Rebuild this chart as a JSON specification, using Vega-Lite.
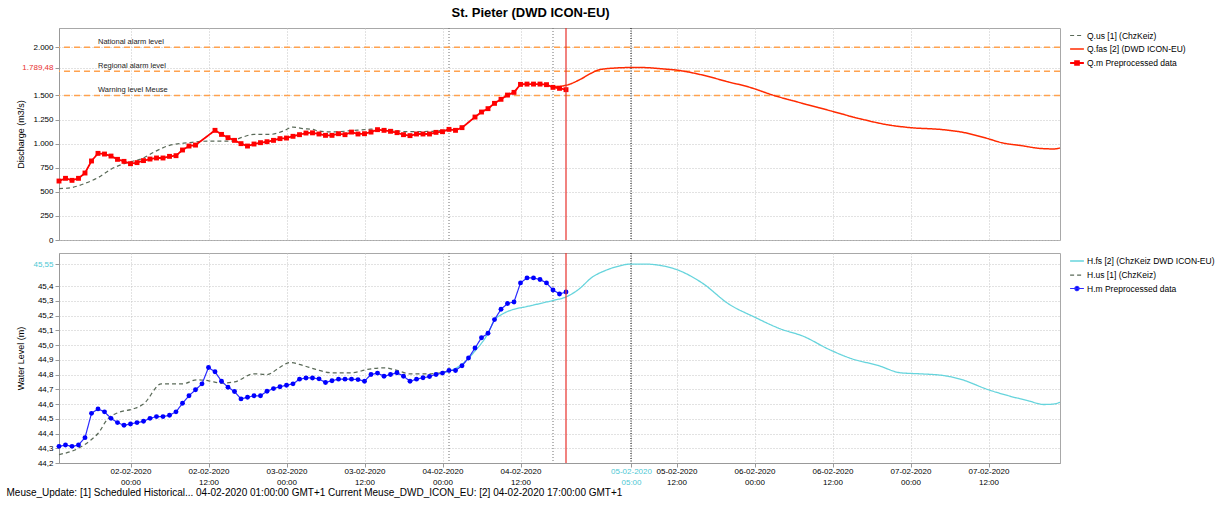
{
"$schema":"https://vega.github.io/schema/vega-lite/v6.json",
"padding":{"left":5,"top":6,"right":5,"bottom":5},
"title":{"text":"St. Pieter (DWD ICON-EU)","fontSize":13,"fontWeight":"bold","anchor":"start","dx":446,"offset":7,"font":"Liberation Sans"},
"config":{"font":"Liberation Sans","view":{"stroke":"#a8a8a8"},
 "axis":{"labelFontSize":8,"labelColor":"#000","titleFontSize":9,"titleFontWeight":"normal","titleColor":"#000","gridColor":"#c4c4c4","gridDash":[1,2],"domainColor":"#999","tickColor":"#999","tickSize":4,"labelOverlap":false},
 "legend":{"orient":"right","offset":6,"labelFontSize":8.5,"labelColor":"#000","labelOffset":2,"labelLimit":300,"symbolType":"stroke","symbolSize":190,"symbolStrokeWidth":1.5,"rowPadding":1,"padding":0}},
"datasets":{
"alarm":[{"v":2000,"lab":"National alarm level"},{"v":1750,"lab":"Regional alarm level"},{"v":1500,"lab":"Warning level Meuse"}],
"vl":[{"t":"2020-02-04T01:00","k":"h"},{"t":"2020-02-04T17:00","k":"h"},{"t":"2020-02-05T05:00","k":"p"},{"t":"2020-02-04T19:00","k":"n"}],
"ts":[
{"t":"2020-02-01T13:00","s":"Q.m","v":612},{"t":"2020-02-01T14:00","s":"Q.m","v":640},{"t":"2020-02-01T15:00","s":"Q.m","v":619},{"t":"2020-02-01T16:00","s":"Q.m","v":640},{"t":"2020-02-01T17:00","s":"Q.m","v":695},{"t":"2020-02-01T18:00","s":"Q.m","v":820},{"t":"2020-02-01T19:00","s":"Q.m","v":899},{"t":"2020-02-01T20:00","s":"Q.m","v":892},{"t":"2020-02-01T21:00","s":"Q.m","v":871},{"t":"2020-02-01T22:00","s":"Q.m","v":837},{"t":"2020-02-01T23:00","s":"Q.m","v":816},
{"t":"2020-02-02T00:00","s":"Q.m","v":792},{"t":"2020-02-02T01:00","s":"Q.m","v":803},{"t":"2020-02-02T02:00","s":"Q.m","v":824},{"t":"2020-02-02T03:00","s":"Q.m","v":840},{"t":"2020-02-02T04:00","s":"Q.m","v":851},{"t":"2020-02-02T05:00","s":"Q.m","v":851},{"t":"2020-02-02T06:00","s":"Q.m","v":868},{"t":"2020-02-02T07:00","s":"Q.m","v":875},{"t":"2020-02-02T08:00","s":"Q.m","v":934},{"t":"2020-02-02T09:00","s":"Q.m","v":975},{"t":"2020-02-02T10:00","s":"Q.m","v":985},{"t":"2020-02-02T13:00","s":"Q.m","v":1138},{"t":"2020-02-02T14:00","s":"Q.m","v":1096},{"t":"2020-02-02T15:00","s":"Q.m","v":1062},{"t":"2020-02-02T16:00","s":"Q.m","v":1034},{"t":"2020-02-02T17:00","s":"Q.m","v":1000},{"t":"2020-02-02T18:00","s":"Q.m","v":975},{"t":"2020-02-02T19:00","s":"Q.m","v":996},{"t":"2020-02-02T20:00","s":"Q.m","v":1010},{"t":"2020-02-02T21:00","s":"Q.m","v":1020},{"t":"2020-02-02T22:00","s":"Q.m","v":1034},{"t":"2020-02-02T23:00","s":"Q.m","v":1052},
{"t":"2020-02-03T00:00","s":"Q.m","v":1058},{"t":"2020-02-03T01:00","s":"Q.m","v":1076},{"t":"2020-02-03T02:00","s":"Q.m","v":1093},{"t":"2020-02-03T03:00","s":"Q.m","v":1110},{"t":"2020-02-03T04:00","s":"Q.m","v":1112},{"t":"2020-02-03T05:00","s":"Q.m","v":1100},{"t":"2020-02-03T06:00","s":"Q.m","v":1086},{"t":"2020-02-03T07:00","s":"Q.m","v":1086},{"t":"2020-02-03T08:00","s":"Q.m","v":1103},{"t":"2020-02-03T09:00","s":"Q.m","v":1093},{"t":"2020-02-03T10:00","s":"Q.m","v":1120},{"t":"2020-02-03T11:00","s":"Q.m","v":1100},{"t":"2020-02-03T12:00","s":"Q.m","v":1103},{"t":"2020-02-03T13:00","s":"Q.m","v":1120},{"t":"2020-02-03T14:00","s":"Q.m","v":1145},{"t":"2020-02-03T15:00","s":"Q.m","v":1138},{"t":"2020-02-03T16:00","s":"Q.m","v":1128},{"t":"2020-02-03T17:00","s":"Q.m","v":1114},{"t":"2020-02-03T18:00","s":"Q.m","v":1093},{"t":"2020-02-03T19:00","s":"Q.m","v":1083},{"t":"2020-02-03T20:00","s":"Q.m","v":1100},{"t":"2020-02-03T21:00","s":"Q.m","v":1100},{"t":"2020-02-03T22:00","s":"Q.m","v":1100},{"t":"2020-02-03T23:00","s":"Q.m","v":1117},
{"t":"2020-02-04T00:00","s":"Q.m","v":1124},{"t":"2020-02-04T01:00","s":"Q.m","v":1148},{"t":"2020-02-04T02:00","s":"Q.m","v":1138},{"t":"2020-02-04T03:00","s":"Q.m","v":1166},{"t":"2020-02-04T05:00","s":"Q.m","v":1276},{"t":"2020-02-04T06:00","s":"Q.m","v":1328},{"t":"2020-02-04T07:00","s":"Q.m","v":1363},{"t":"2020-02-04T08:00","s":"Q.m","v":1418},{"t":"2020-02-04T09:00","s":"Q.m","v":1460},{"t":"2020-02-04T10:00","s":"Q.m","v":1504},{"t":"2020-02-04T11:00","s":"Q.m","v":1532},{"t":"2020-02-04T12:00","s":"Q.m","v":1615},{"t":"2020-02-04T13:00","s":"Q.m","v":1618},{"t":"2020-02-04T14:00","s":"Q.m","v":1618},{"t":"2020-02-04T15:00","s":"Q.m","v":1618},{"t":"2020-02-04T16:00","s":"Q.m","v":1612},{"t":"2020-02-04T17:00","s":"Q.m","v":1584},{"t":"2020-02-04T18:00","s":"Q.m","v":1574},{"t":"2020-02-04T19:00","s":"Q.m","v":1560},
{"t":"2020-02-01T13:00","s":"Q.us","v":533},{"t":"2020-02-01T15:00","s":"Q.us","v":545},{"t":"2020-02-01T17:00","s":"Q.us","v":588},{"t":"2020-02-01T19:00","s":"Q.us","v":647},{"t":"2020-02-01T21:00","s":"Q.us","v":735},{"t":"2020-02-01T23:30","s":"Q.us","v":803},{"t":"2020-02-02T01:45","s":"Q.us","v":844},{"t":"2020-02-02T03:50","s":"Q.us","v":920},{"t":"2020-02-02T06:00","s":"Q.us","v":982},{"t":"2020-02-02T09:00","s":"Q.us","v":1010},{"t":"2020-02-02T11:00","s":"Q.us","v":1024},{"t":"2020-02-02T13:00","s":"Q.us","v":1027},{"t":"2020-02-02T15:30","s":"Q.us","v":1027},{"t":"2020-02-02T17:00","s":"Q.us","v":1062},{"t":"2020-02-02T19:00","s":"Q.us","v":1096},{"t":"2020-02-02T21:30","s":"Q.us","v":1096},{"t":"2020-02-02T23:30","s":"Q.us","v":1131},{"t":"2020-02-03T01:00","s":"Q.us","v":1172},{"t":"2020-02-03T02:30","s":"Q.us","v":1156},{"t":"2020-02-03T04:00","s":"Q.us","v":1148},{"t":"2020-02-03T05:00","s":"Q.us","v":1130},{"t":"2020-02-03T07:00","s":"Q.us","v":1121},{"t":"2020-02-03T10:00","s":"Q.us","v":1135},{"t":"2020-02-03T12:30","s":"Q.us","v":1148},{"t":"2020-02-03T14:30","s":"Q.us","v":1155},{"t":"2020-02-03T16:30","s":"Q.us","v":1138},{"t":"2020-02-03T18:30","s":"Q.us","v":1124},{"t":"2020-02-03T22:30","s":"Q.us","v":1128},{"t":"2020-02-04T01:00","s":"Q.us","v":1148},
{"t":"2020-02-04T17:00","s":"Q.fas","v":1590},{"t":"2020-02-04T19:00","s":"Q.fas","v":1605},{"t":"2020-02-04T21:00","s":"Q.fas","v":1660},{"t":"2020-02-04T23:00","s":"Q.fas","v":1735},{"t":"2020-02-05T00:00","s":"Q.fas","v":1765},{"t":"2020-02-05T02:00","s":"Q.fas","v":1782},{"t":"2020-02-05T05:00","s":"Q.fas","v":1789.48},{"t":"2020-02-05T07:00","s":"Q.fas","v":1789},{"t":"2020-02-05T10:00","s":"Q.fas","v":1775},{"t":"2020-02-05T12:00","s":"Q.fas","v":1763},{"t":"2020-02-05T16:00","s":"Q.fas","v":1712},{"t":"2020-02-05T20:00","s":"Q.fas","v":1640},{"t":"2020-02-05T23:00","s":"Q.fas","v":1590},{"t":"2020-02-06T03:00","s":"Q.fas","v":1500},{"t":"2020-02-06T07:00","s":"Q.fas","v":1425},{"t":"2020-02-06T12:00","s":"Q.fas","v":1335},{"t":"2020-02-06T16:00","s":"Q.fas","v":1262},{"t":"2020-02-06T21:00","s":"Q.fas","v":1190},{"t":"2020-02-07T00:00","s":"Q.fas","v":1166},{"t":"2020-02-07T05:00","s":"Q.fas","v":1145},{"t":"2020-02-07T08:00","s":"Q.fas","v":1118},{"t":"2020-02-07T12:00","s":"Q.fas","v":1050},{"t":"2020-02-07T14:00","s":"Q.fas","v":1010},{"t":"2020-02-07T17:00","s":"Q.fas","v":980},{"t":"2020-02-07T20:00","s":"Q.fas","v":950},{"t":"2020-02-07T22:00","s":"Q.fas","v":945},{"t":"2020-02-07T23:00","s":"Q.fas","v":955},
{"t":"2020-02-01T13:00","s":"H.m","v":44.313},{"t":"2020-02-01T14:00","s":"H.m","v":44.322},{"t":"2020-02-01T15:00","s":"H.m","v":44.313},{"t":"2020-02-01T16:00","s":"H.m","v":44.322},{"t":"2020-02-01T17:00","s":"H.m","v":44.372},{"t":"2020-02-01T18:00","s":"H.m","v":44.537},{"t":"2020-02-01T19:00","s":"H.m","v":44.567},{"t":"2020-02-01T20:00","s":"H.m","v":44.547},{"t":"2020-02-01T21:00","s":"H.m","v":44.503},{"t":"2020-02-01T22:00","s":"H.m","v":44.474},{"t":"2020-02-01T23:00","s":"H.m","v":44.456},
{"t":"2020-02-02T00:00","s":"H.m","v":44.465},{"t":"2020-02-02T01:00","s":"H.m","v":44.474},{"t":"2020-02-02T02:00","s":"H.m","v":44.483},{"t":"2020-02-02T03:00","s":"H.m","v":44.503},{"t":"2020-02-02T04:00","s":"H.m","v":44.515},{"t":"2020-02-02T05:00","s":"H.m","v":44.515},{"t":"2020-02-02T06:00","s":"H.m","v":44.524},{"t":"2020-02-02T07:00","s":"H.m","v":44.547},{"t":"2020-02-02T08:00","s":"H.m","v":44.605},{"t":"2020-02-02T09:00","s":"H.m","v":44.656},{"t":"2020-02-02T10:00","s":"H.m","v":44.697},{"t":"2020-02-02T11:00","s":"H.m","v":44.737},{"t":"2020-02-02T12:00","s":"H.m","v":44.848},{"t":"2020-02-02T13:00","s":"H.m","v":44.819},{"t":"2020-02-02T14:00","s":"H.m","v":44.755},{"t":"2020-02-02T15:00","s":"H.m","v":44.714},{"t":"2020-02-02T16:00","s":"H.m","v":44.685},{"t":"2020-02-02T17:00","s":"H.m","v":44.635},{"t":"2020-02-02T18:00","s":"H.m","v":44.646},{"t":"2020-02-02T19:00","s":"H.m","v":44.656},{"t":"2020-02-02T20:00","s":"H.m","v":44.656},{"t":"2020-02-02T21:00","s":"H.m","v":44.687},{"t":"2020-02-02T22:00","s":"H.m","v":44.705},{"t":"2020-02-02T23:00","s":"H.m","v":44.717},
{"t":"2020-02-03T00:00","s":"H.m","v":44.728},{"t":"2020-02-03T01:00","s":"H.m","v":44.737},{"t":"2020-02-03T02:00","s":"H.m","v":44.769},{"t":"2020-02-03T03:00","s":"H.m","v":44.777},{"t":"2020-02-03T04:00","s":"H.m","v":44.777},{"t":"2020-02-03T05:00","s":"H.m","v":44.771},{"t":"2020-02-03T06:00","s":"H.m","v":44.746},{"t":"2020-02-03T07:00","s":"H.m","v":44.758},{"t":"2020-02-03T08:00","s":"H.m","v":44.769},{"t":"2020-02-03T09:00","s":"H.m","v":44.769},{"t":"2020-02-03T10:00","s":"H.m","v":44.769},{"t":"2020-02-03T11:00","s":"H.m","v":44.766},{"t":"2020-02-03T12:00","s":"H.m","v":44.755},{"t":"2020-02-03T13:00","s":"H.m","v":44.801},{"t":"2020-02-03T14:00","s":"H.m","v":44.81},{"t":"2020-02-03T15:00","s":"H.m","v":44.789},{"t":"2020-02-03T16:00","s":"H.m","v":44.801},{"t":"2020-02-03T17:00","s":"H.m","v":44.812},{"t":"2020-02-03T18:00","s":"H.m","v":44.789},{"t":"2020-02-03T19:00","s":"H.m","v":44.755},{"t":"2020-02-03T20:00","s":"H.m","v":44.769},{"t":"2020-02-03T21:00","s":"H.m","v":44.778},{"t":"2020-02-03T22:00","s":"H.m","v":44.787},{"t":"2020-02-03T23:00","s":"H.m","v":44.801},
{"t":"2020-02-04T00:00","s":"H.m","v":44.81},{"t":"2020-02-04T01:00","s":"H.m","v":44.828},{"t":"2020-02-04T02:00","s":"H.m","v":44.828},{"t":"2020-02-04T03:00","s":"H.m","v":44.86},{"t":"2020-02-04T04:00","s":"H.m","v":44.912},{"t":"2020-02-04T05:00","s":"H.m","v":44.98},{"t":"2020-02-04T06:00","s":"H.m","v":45.05},{"t":"2020-02-04T07:00","s":"H.m","v":45.08},{"t":"2020-02-04T08:00","s":"H.m","v":45.173},{"t":"2020-02-04T09:00","s":"H.m","v":45.243},{"t":"2020-02-04T10:00","s":"H.m","v":45.282},{"t":"2020-02-04T11:00","s":"H.m","v":45.293},{"t":"2020-02-04T12:00","s":"H.m","v":45.422},{"t":"2020-02-04T13:00","s":"H.m","v":45.456},{"t":"2020-02-04T14:00","s":"H.m","v":45.456},{"t":"2020-02-04T15:00","s":"H.m","v":45.445},{"t":"2020-02-04T16:00","s":"H.m","v":45.422},{"t":"2020-02-04T17:00","s":"H.m","v":45.374},{"t":"2020-02-04T18:00","s":"H.m","v":45.347},{"t":"2020-02-04T19:00","s":"H.m","v":45.36},
{"t":"2020-02-01T13:00","s":"H.us","v":44.257},{"t":"2020-02-01T16:00","s":"H.us","v":44.30},{"t":"2020-02-01T18:00","s":"H.us","v":44.36},{"t":"2020-02-01T19:00","s":"H.us","v":44.40},{"t":"2020-02-01T20:30","s":"H.us","v":44.50},{"t":"2020-02-01T22:00","s":"H.us","v":44.54},{"t":"2020-02-02T00:30","s":"H.us","v":44.568},{"t":"2020-02-02T02:00","s":"H.us","v":44.60},{"t":"2020-02-02T04:45","s":"H.us","v":44.737},{"t":"2020-02-02T08:00","s":"H.us","v":44.737},{"t":"2020-02-02T10:15","s":"H.us","v":44.765},{"t":"2020-02-02T12:00","s":"H.us","v":44.758},{"t":"2020-02-02T14:00","s":"H.us","v":44.742},{"t":"2020-02-02T16:00","s":"H.us","v":44.75},{"t":"2020-02-02T19:00","s":"H.us","v":44.805},{"t":"2020-02-02T21:00","s":"H.us","v":44.80},{"t":"2020-02-02T23:00","s":"H.us","v":44.85},{"t":"2020-02-03T00:30","s":"H.us","v":44.882},{"t":"2020-02-03T02:30","s":"H.us","v":44.862},{"t":"2020-02-03T04:30","s":"H.us","v":44.835},{"t":"2020-02-03T07:00","s":"H.us","v":44.812},{"t":"2020-02-03T10:00","s":"H.us","v":44.812},{"t":"2020-02-03T12:30","s":"H.us","v":44.835},{"t":"2020-02-03T15:00","s":"H.us","v":44.846},{"t":"2020-02-03T17:00","s":"H.us","v":44.828},{"t":"2020-02-03T19:00","s":"H.us","v":44.805},{"t":"2020-02-03T22:00","s":"H.us","v":44.805},{"t":"2020-02-04T00:00","s":"H.us","v":44.815},{"t":"2020-02-04T01:00","s":"H.us","v":44.825},
{"t":"2020-02-04T00:00","s":"H.fs","v":44.81},{"t":"2020-02-04T03:00","s":"H.fs","v":44.87},{"t":"2020-02-04T05:00","s":"H.fs","v":44.96},{"t":"2020-02-04T07:00","s":"H.fs","v":45.08},{"t":"2020-02-04T08:00","s":"H.fs","v":45.17},{"t":"2020-02-04T09:00","s":"H.fs","v":45.205},{"t":"2020-02-04T10:00","s":"H.fs","v":45.228},{"t":"2020-02-04T11:00","s":"H.fs","v":45.243},{"t":"2020-02-04T13:00","s":"H.fs","v":45.262},{"t":"2020-02-04T15:00","s":"H.fs","v":45.282},{"t":"2020-02-04T17:00","s":"H.fs","v":45.303},{"t":"2020-02-04T19:00","s":"H.fs","v":45.327},{"t":"2020-02-04T21:00","s":"H.fs","v":45.38},{"t":"2020-02-04T23:00","s":"H.fs","v":45.46},{"t":"2020-02-05T01:00","s":"H.fs","v":45.505},{"t":"2020-02-05T03:00","s":"H.fs","v":45.535},{"t":"2020-02-05T05:00","s":"H.fs","v":45.55},{"t":"2020-02-05T07:00","s":"H.fs","v":45.55},{"t":"2020-02-05T11:30","s":"H.fs","v":45.52},{"t":"2020-02-05T16:00","s":"H.fs","v":45.42},{"t":"2020-02-05T20:00","s":"H.fs","v":45.28},{"t":"2020-02-06T00:00","s":"H.fs","v":45.19},{"t":"2020-02-06T04:00","s":"H.fs","v":45.11},{"t":"2020-02-06T07:30","s":"H.fs","v":45.06},{"t":"2020-02-06T11:30","s":"H.fs","v":44.97},{"t":"2020-02-06T15:00","s":"H.fs","v":44.907},{"t":"2020-02-06T19:00","s":"H.fs","v":44.862},{"t":"2020-02-06T22:30","s":"H.fs","v":44.812},{"t":"2020-02-07T01:30","s":"H.fs","v":44.805},{"t":"2020-02-07T05:00","s":"H.fs","v":44.794},{"t":"2020-02-07T07:30","s":"H.fs","v":44.771},{"t":"2020-02-07T12:00","s":"H.fs","v":44.697},{"t":"2020-02-07T15:30","s":"H.fs","v":44.651},{"t":"2020-02-07T18:00","s":"H.fs","v":44.624},{"t":"2020-02-07T20:30","s":"H.fs","v":44.597},{"t":"2020-02-07T22:00","s":"H.fs","v":44.6},{"t":"2020-02-07T23:00","s":"H.fs","v":44.612}
]},
"spacing":6,
"resolve":{"scale":{"x":"shared","y":"independent","color":"independent","strokeDash":"independent","strokeWidth":"independent"},"legend":{"color":"independent","strokeDash":"independent"}},
"vconcat":[
{"width":1001,"height":212,
 "layer":[
  {"data":{"name":"ts"},"transform":[{"filter":"datum.s=='Q.us' || datum.s=='Q.fas'"}],"mark":{"type":"line","interpolate":"monotone","opacity":0},
   "encoding":{
    "x":{"field":"t","type":"temporal","scale":{"domain":[{"year":2020,"month":2,"date":1,"hours":13},{"year":2020,"month":2,"date":7,"hours":23}]},
       "axis":{"title":null,"labels":false,"ticks":false,"domain":false,"tickCount":40,"values":[{"year":2020,"month":2,"date":2,"hours":0},{"year":2020,"month":2,"date":2,"hours":12},{"year":2020,"month":2,"date":3,"hours":0},{"year":2020,"month":2,"date":3,"hours":12},{"year":2020,"month":2,"date":4,"hours":0},{"year":2020,"month":2,"date":4,"hours":12},{"year":2020,"month":2,"date":5,"hours":5},{"year":2020,"month":2,"date":5,"hours":12},{"year":2020,"month":2,"date":6,"hours":0},{"year":2020,"month":2,"date":6,"hours":12},{"year":2020,"month":2,"date":7,"hours":0},{"year":2020,"month":2,"date":7,"hours":12}]}},
    "y":{"field":"v","type":"quantitative","scale":{"domain":[0,2200],"nice":false},
       "axis":{"title":"Discharge (m3/s)","tickCount":40,"labelOverlap":false,"values":[0,250,500,750,1000,1250,1500,1789.48,2000],"labelExpr":"datum.value == 1789.48 ? '1.789,48' : replace(format(datum.value, ','), ',', '.')","labelColor":{"condition":{"test":"datum.value == 1789.48","value":"#e83030"},"value":"#000"},"minExtent":33,"maxExtent":33,"titlePadding":1,"labelPadding":2}}}},
  {"data":{"name":"vl"},"transform":[{"filter":"datum.k=='h'"}],"mark":{"type":"rule","color":"#707070","strokeDash":[1,2],"strokeWidth":1},"encoding":{"x":{"field":"t","type":"temporal"}}},
  {"data":{"name":"vl"},"transform":[{"filter":"datum.k=='p'"}],"mark":{"type":"rule","color":"#000","strokeDash":[1,1.5],"strokeWidth":1},"encoding":{"x":{"field":"t","type":"temporal"}}},
  {"data":{"name":"alarm"},"mark":{"type":"rule","color":"#ffa24f","strokeDash":[6,4],"strokeWidth":1.5},"encoding":{"y":{"field":"v","type":"quantitative"}}},
  {"data":{"name":"alarm"},"mark":{"type":"text","align":"left","baseline":"bottom","dy":-1,"fontSize":7.5,"color":"#222"},"encoding":{"x":{"datum":{"year":2020,"month":2,"date":1,"hours":19},"type":"temporal"},"y":{"field":"v","type":"quantitative"},"text":{"field":"lab"}}},
  {"data":{"name":"ts"},"transform":[{"filter":"datum.s=='Q.us' || datum.s=='Q.fas'"}],"mark":{"type":"line","interpolate":"monotone"},
   "encoding":{
    "x":{"field":"t","type":"temporal"},
    "y":{"field":"v","type":"quantitative"},
    "color":{"field":"s","type":"nominal","scale":{"domain":["Q.us","Q.fas","Q.m"],"range":["#5a6a58","#ff2a00","#ff0000"]},
       "legend":{"title":null,"labelExpr":"datum.value == 'Q.us' ? 'Q.us [1] (ChzKeiz)' : datum.value == 'Q.fas' ? 'Q.fas [2] (DWD ICON-EU)' : 'Q.m Preprocessed data'",
         "encode":{"symbols":{"update":{"shape":{"signal":"datum.value == 'Q.m' ? 'M-1,0H1M-0.28,-0.28H0.28V0.28H-0.28Z' : 'stroke'"},"fill":{"signal":"datum.value == 'Q.m' ? '#ff0000' : 'transparent'"}}}}}},
    "strokeDash":{"field":"s","type":"nominal","scale":{"domain":["Q.us","Q.fas","Q.m"],"range":[[4,3],[1,0],[1,0]]},"legend":{"title":null}},
    "strokeWidth":{"field":"s","type":"nominal","scale":{"domain":["Q.us","Q.fas","Q.m"],"range":[1.2,1.8,2]},"legend":null}}},
  {"data":{"name":"ts"},"transform":[{"filter":"datum.s=='Q.m'"}],"mark":{"type":"line"},
   "encoding":{"x":{"field":"t","type":"temporal"},"y":{"field":"v","type":"quantitative"},"color":{"field":"s","type":"nominal"},"strokeDash":{"field":"s","type":"nominal"},"strokeWidth":{"field":"s","type":"nominal"}}},
  {"data":{"name":"ts"},"transform":[{"filter":"datum.s=='Q.m'"}],"mark":{"type":"point","shape":"square","filled":true,"size":24,"color":"#ff0000","opacity":1},
   "encoding":{"x":{"field":"t","type":"temporal"},"y":{"field":"v","type":"quantitative"}}},
  {"data":{"name":"vl"},"transform":[{"filter":"datum.k=='n'"}],"mark":{"type":"rule","color":"#e8302a","strokeWidth":1.2},"encoding":{"x":{"field":"t","type":"temporal"}}}
 ]},
{"width":1001,"height":210,
 "layer":[
  {"data":{"name":"ts"},"transform":[{"filter":"datum.s=='H.us' || datum.s=='H.fs'"}],"mark":{"type":"line","interpolate":"monotone","opacity":0},
   "encoding":{
    "x":{"field":"t","type":"temporal","scale":{"domain":[{"year":2020,"month":2,"date":1,"hours":13},{"year":2020,"month":2,"date":7,"hours":23}]},
       "axis":{"title":"Meuse_Update: [1] Scheduled Historical... 04-02-2020 01:00:00 GMT+1 Current Meuse_DWD_ICON_EU: [2] 04-02-2020 17:00:00 GMT+1","titleFontSize":10,"titleAnchor":"start","titleAlign":"left","titleX":-53,"titleY":32,"titleBaseline":"alphabetic",
        "labelFontSize":8,"labelLineHeight":11,"labelPadding":0,"labelOverlap":false,"tickCount":40,
        "labelExpr":"[timeFormat(datum.value, '%d-%m-%Y'), timeFormat(datum.value, '%H:%M')]",
        "labelColor":{"condition":{"test":"hours(datum.value) == 5","value":"#4cc8d4"},"value":"#000"},
        "values":[{"year":2020,"month":2,"date":2,"hours":0},{"year":2020,"month":2,"date":2,"hours":12},{"year":2020,"month":2,"date":3,"hours":0},{"year":2020,"month":2,"date":3,"hours":12},{"year":2020,"month":2,"date":4,"hours":0},{"year":2020,"month":2,"date":4,"hours":12},{"year":2020,"month":2,"date":5,"hours":5},{"year":2020,"month":2,"date":5,"hours":12},{"year":2020,"month":2,"date":6,"hours":0},{"year":2020,"month":2,"date":6,"hours":12},{"year":2020,"month":2,"date":7,"hours":0},{"year":2020,"month":2,"date":7,"hours":12}]}},
    "y":{"field":"v","type":"quantitative","scale":{"domain":[44.2,45.625],"nice":false,"zero":false},
       "axis":{"title":"Water Level (m)","tickCount":40,"labelOverlap":false,"values":[44.2,44.3,44.4,44.5,44.6,44.7,44.8,44.9,45.0,45.1,45.2,45.3,45.4,45.55],"labelExpr":"datum.value > 45.5 ? '45,55' : replace(format(datum.value, '.1f'), '.', ',')","labelColor":{"condition":{"test":"datum.value > 45.5","value":"#4cc8d4"},"value":"#000"},"minExtent":33,"maxExtent":33,"titlePadding":1,"labelPadding":2}}}},
  {"data":{"name":"vl"},"transform":[{"filter":"datum.k=='h'"}],"mark":{"type":"rule","color":"#707070","strokeDash":[1,2],"strokeWidth":1},"encoding":{"x":{"field":"t","type":"temporal"}}},
  {"data":{"name":"vl"},"transform":[{"filter":"datum.k=='p'"}],"mark":{"type":"rule","color":"#000","strokeDash":[1,1.5],"strokeWidth":1},"encoding":{"x":{"field":"t","type":"temporal"}}},
  {"data":{"name":"ts"},"transform":[{"filter":"datum.s=='H.us' || datum.s=='H.fs'"}],"mark":{"type":"line","interpolate":"monotone"},
   "encoding":{
    "x":{"field":"t","type":"temporal"},
    "y":{"field":"v","type":"quantitative"},
    "color":{"field":"s","type":"nominal","scale":{"domain":["H.fs","H.us","H.m"],"range":["#66d4dc","#5a6a58","#2a2aff"]},
       "legend":{"title":null,"labelExpr":"datum.value == 'H.fs' ? 'H.fs [2] (ChzKeiz DWD ICON-EU)' : datum.value == 'H.us' ? 'H.us [1] (ChzKeiz)' : 'H.m Preprocessed data'",
         "encode":{"symbols":{"update":{"shape":{"signal":"datum.value == 'H.m' ? 'M-1,0H1M0.3,0A0.3,0.3,0,1,1,-0.3,0A0.3,0.3,0,1,1,0.3,0Z' : 'stroke'"},"fill":{"signal":"datum.value == 'H.m' ? '#0000ff' : 'transparent'"}}}}}},
    "strokeDash":{"field":"s","type":"nominal","scale":{"domain":["H.fs","H.us","H.m"],"range":[[1,0],[4,3],[1,0]]},"legend":{"title":null}},
    "strokeWidth":{"field":"s","type":"nominal","scale":{"domain":["H.fs","H.us","H.m"],"range":[1.3,1.2,1.1]},"legend":null}}},
  {"data":{"name":"ts"},"transform":[{"filter":"datum.s=='H.m'"}],"mark":{"type":"line"},
   "encoding":{"x":{"field":"t","type":"temporal"},"y":{"field":"v","type":"quantitative"},"color":{"field":"s","type":"nominal"},"strokeDash":{"field":"s","type":"nominal"},"strokeWidth":{"field":"s","type":"nominal"}}},
  {"data":{"name":"ts"},"transform":[{"filter":"datum.s=='H.m'"}],"mark":{"type":"point","shape":"circle","filled":true,"size":24,"color":"#0000ff","opacity":1},
   "encoding":{"x":{"field":"t","type":"temporal"},"y":{"field":"v","type":"quantitative"}}},
  {"data":{"name":"vl"},"transform":[{"filter":"datum.k=='n'"}],"mark":{"type":"rule","color":"#e8302a","strokeWidth":1.2},"encoding":{"x":{"field":"t","type":"temporal"}}}
 ]}
]
}
